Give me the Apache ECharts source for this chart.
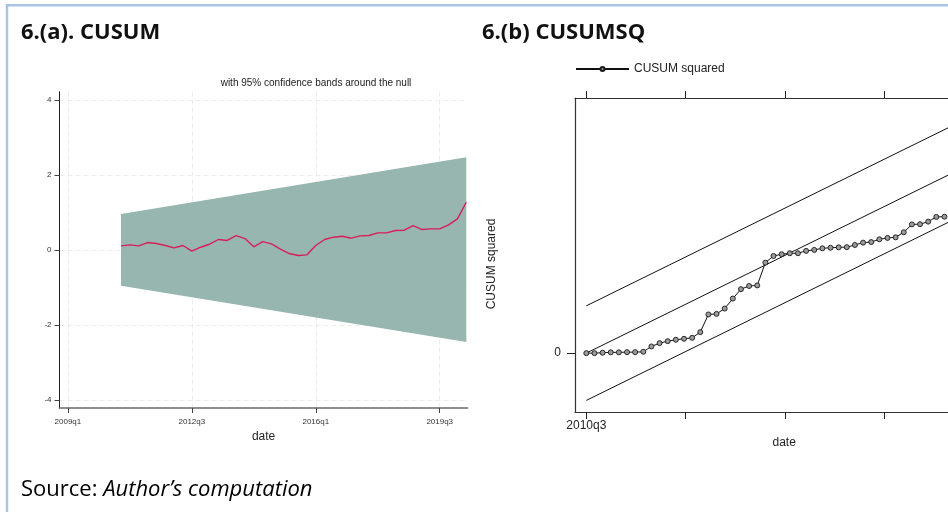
<!DOCTYPE html>
<html>
<head>
<meta charset="utf-8">
<script src="https://cdn.jsdelivr.net/npm/echarts@6/dist/echarts.min.js"></script>
<style>
  html, body { margin: 0; padding: 0; background: #fff; overflow: hidden; }
  /* the CUSUMSQ panel runs past the right edge of the page */
  #chart { width: 1000px; height: 512px; }
</style>
</head>
<body>
<div id="chart"></div>
<script>
// ---- Panel (a): recursive CUSUM, quarter index 0 = 2009q1 ----
const cusumStart = 6; // first recursive residual: 2010q3
const cusumValues = [
  0.107, 0.133, 0.107, 0.195, 0.170, 0.116, 0.053, 0.116, -0.036, 0.070,
  0.150, 0.276, 0.250, 0.380, 0.300, 0.080, 0.220, 0.160, 0.018, -0.098,
  -0.151, -0.133, 0.116, 0.276, 0.338, 0.364, 0.311, 0.373, 0.382, 0.453,
  0.453, 0.516, 0.524, 0.649, 0.542, 0.560, 0.560, 0.667, 0.827, 1.270
];
const bandQuarters = [6, 45];
const bandUpper = [0.955, 2.47];
const bandLower = [-0.955, -2.46];
const cusumXTicks = [0, 14, 28, 42];
const cusumYTicks = [-4, -2, 0, 2, 4];

// ---- Panel (b): CUSUM of squares, observation index 0 = 2010q3 ----
const cusumsqValues = [
  0.000, 0.000, 0.002, 0.004, 0.004, 0.005, 0.005, 0.007, 0.034, 0.051,
  0.061, 0.068, 0.073, 0.078, 0.107, 0.197, 0.200, 0.227, 0.278, 0.326,
  0.342, 0.345, 0.461, 0.495, 0.504, 0.509, 0.509, 0.521, 0.526, 0.534,
  0.537, 0.539, 0.540, 0.551, 0.563, 0.566, 0.580, 0.587, 0.590, 0.616,
  0.656, 0.657, 0.670, 0.694, 0.695
];
const expectedX = [0, 49];
const expectedY = [0, 1];
const sqBandHalfWidth = 0.241;
const sqXTicks = [0, 12.2, 24.4, 36.6];
const sqXLabels = ['2010q3'];
const sqYTicks = [0];

function quarterLabel(i) {
  const year = 2009 + Math.floor(i / 4);
  const q = (i % 4) + 1;
  return year + 'q' + q;
}

const axisFont = 'Liberation Sans';
const dashed = { type: [5, 3], color: '#ececec', width: 1 };

const chart = echarts.init(document.getElementById('chart'), null, { renderer: 'canvas' });

const option = {
  animation: false,
  backgroundColor: '#ffffff',
  textStyle: { fontFamily: axisFont },
  legend: {
    data: ['CUSUM squared'],
    left: 570,
    top: 58,
    itemWidth: 53,
    itemHeight: 5,
    itemGap: 4,
    textStyle: { fontFamily: axisFont, fontSize: 12, color: '#222' },
    selectedMode: false
  },
  grid: [
    { left: 59.5, top: 91.7, width: 408.2, height: 316.3 },
    { left: 575, top: 98, width: 418.3, height: 314 }
  ],
  xAxis: [
    {
      type: 'value', gridIndex: 0, min: -0.95, max: 45.16,
      axisLine: { show: true, onZero: false, lineStyle: { color: '#6a6a6a', width: 1.6 } },
      axisTick: { show: true, customValues: cusumXTicks, length: 5, lineStyle: { color: '#444' } },
      axisLabel: { customValues: cusumXTicks, formatter: v => quarterLabel(v), fontSize: 8, color: '#333', margin: 10 },
      splitLine: { show: true, lineStyle: dashed },
      name: 'date', nameLocation: 'middle', nameGap: 23,
      nameTextStyle: { fontSize: 12, color: '#222' }
    },
    {
      type: 'value', gridIndex: 1, min: -1.39, max: 50, position: 'bottom',
      axisLine: { show: true, onZero: false, lineStyle: { color: '#333', width: 1.2 } },
      axisTick: { show: true, customValues: sqXTicks, length: 7, lineStyle: { color: '#222' } },
      axisLabel: { customValues: [sqXTicks[0]], formatter: () => sqXLabels[0], fontSize: 12, color: '#222', margin: 8 },
      splitLine: { show: false },
      name: 'date', nameLocation: 'middle', nameGap: 18,
      nameTextStyle: { fontSize: 12, color: '#222' }
    },
    {
      type: 'value', gridIndex: 1, min: -1.39, max: 50, position: 'top',
      axisLine: { show: true, onZero: false, lineStyle: { color: '#333', width: 1.2 } },
      axisTick: { show: true, customValues: sqXTicks, length: 7, lineStyle: { color: '#222' } },
      axisLabel: { show: false },
      splitLine: { show: false }
    }
  ],
  yAxis: [
    {
      type: 'value', gridIndex: 0, min: -4.22, max: 4.22,
      axisLine: { show: true, onZero: false, lineStyle: { color: '#222', width: 1 } },
      axisTick: { show: true, customValues: cusumYTicks, length: 5, lineStyle: { color: '#444' } },
      axisLabel: { customValues: cusumYTicks, fontSize: 8, color: '#333', margin: 8 },
      splitLine: { show: true, lineStyle: dashed }
    },
    {
      type: 'value', gridIndex: 1, min: -0.3, max: 1.3,
      axisLine: { show: true, onZero: false, lineStyle: { color: '#333', width: 1.2 } },
      axisTick: { show: true, customValues: sqYTicks, length: 8, lineStyle: { color: '#222' } },
      axisLabel: { customValues: sqYTicks, fontSize: 12, color: '#222', margin: 14 },
      splitLine: { show: false }
    }
  ],
  series: [
    // 95% confidence band for the CUSUM, drawn as a polygon in data coordinates
    {
      type: 'custom', xAxisIndex: 0, yAxisIndex: 0, silent: true, z: 1,
      data: [[bandQuarters[0], 0]],
      renderItem: function (params, api) {
        const pts = [];
        for (let j = 0; j < bandQuarters.length; j++) pts.push(api.coord([bandQuarters[j], bandUpper[j]]));
        for (let j = bandQuarters.length - 1; j >= 0; j--) pts.push(api.coord([bandQuarters[j], bandLower[j]]));
        return { type: 'polygon', shape: { points: pts }, style: { fill: '#97b6af' } };
      }
    },
    {
      type: 'line', xAxisIndex: 0, yAxisIndex: 0, z: 3,
      data: cusumValues.map((v, i) => [cusumStart + i, v]),
      showSymbol: false, symbol: 'none',
      lineStyle: { color: '#d81e5b', width: 1.4 }
    },
    // CUSUMSQ: expected path and its bounds
    {
      type: 'line', xAxisIndex: 1, yAxisIndex: 1, symbol: 'none', silent: true,
      data: expectedX.map((x, i) => [x, expectedY[i] + sqBandHalfWidth]),
      lineStyle: { color: '#111', width: 1 }
    },
    {
      type: 'line', xAxisIndex: 1, yAxisIndex: 1, symbol: 'none', silent: true,
      data: expectedX.map((x, i) => [x, expectedY[i]]),
      lineStyle: { color: '#111', width: 1 }
    },
    {
      type: 'line', xAxisIndex: 1, yAxisIndex: 1, symbol: 'none', silent: true,
      data: expectedX.map((x, i) => [x, expectedY[i] - sqBandHalfWidth]),
      lineStyle: { color: '#111', width: 1 }
    },
    {
      name: 'CUSUM squared',
      type: 'line', xAxisIndex: 1, yAxisIndex: 1, z: 4,
      data: cusumsqValues.map((v, i) => [i, v]),
      symbol: 'circle', symbolSize: 5, showSymbol: true,
      lineStyle: { color: '#111', width: 1 },
      itemStyle: { color: '#9b9b9b', borderColor: '#1a1a1a', borderWidth: 0.9 }
    }
  ],
  graphic: [
    { type: 'line', silent: true, shape: { x1: 7, y1: 4, x2: 7, y2: 512 }, style: { stroke: '#a8c5e6', lineWidth: 2.5 } },
    { type: 'line', silent: true, shape: { x1: 6, y1: 5.3, x2: 1000, y2: 5.3 }, style: { stroke: '#a8c5e6', lineWidth: 2.5 } },
    { type: 'text', x: 21, y: 32.5, style: { text: '6.(a). CUSUM', font: 'bold 22px "Open Sans"', fill: '#111', verticalAlign: 'middle' } },
    { type: 'text', x: 482, y: 32.5, style: { text: '6.(b) CUSUMSQ', font: 'bold 22px "Open Sans"', fill: '#111', verticalAlign: 'middle' } },
    { type: 'text', x: 316, y: 83, style: { text: 'with 95% confidence bands around the null', font: '10px "Liberation Sans"', fill: '#222', align: 'center', verticalAlign: 'middle' } },
    // y-axis title of the CUSUMSQ panel
    { type: 'text', x: 492, y: 264, rotation: Math.PI / 2, style: { text: 'CUSUM squared', font: '12px "Liberation Sans"', fill: '#222', align: 'center', verticalAlign: 'middle' } },
    {
      type: 'text', x: 21, y: 490,
      style: {
        text: '{a|Source: }{b|Author\u2019s computation}',
        verticalAlign: 'middle',
        rich: {
          a: { fontFamily: 'Open Sans', fontSize: 22, color: '#111' },
          b: { fontFamily: 'Open Sans', fontSize: 22, fontStyle: 'italic', color: '#111' }
        }
      }
    }
  ]
};

chart.setOption(option);
</script>
</body>
</html>
